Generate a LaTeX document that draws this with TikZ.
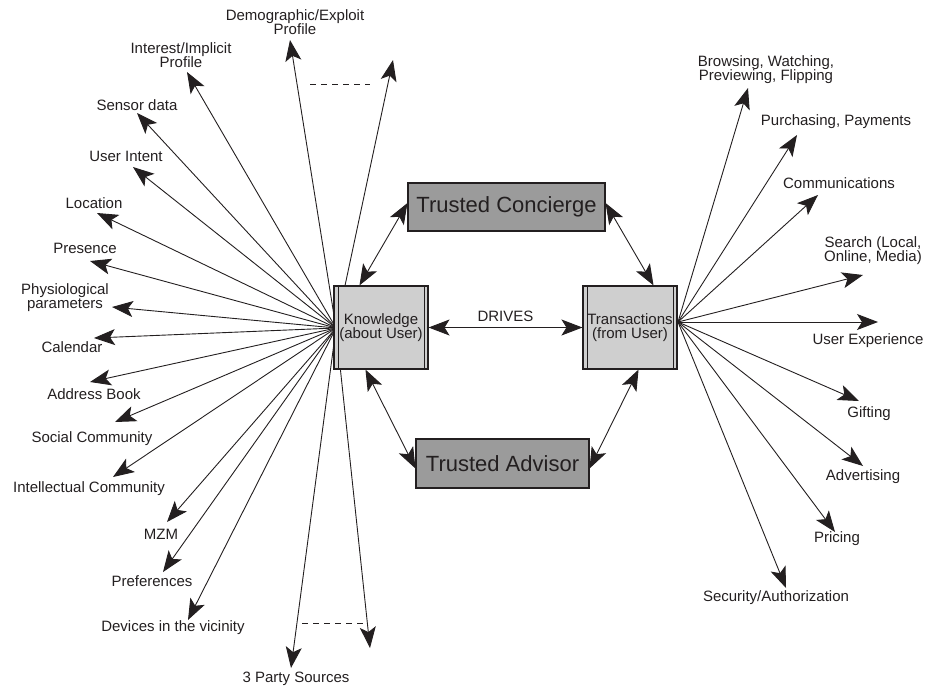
\documentclass[tikz,border=0pt]{standalone}
\usepackage{fontspec}
\setmainfont{Liberation Sans}
\usetikzlibrary{arrows.meta}
\definecolor{ink}{HTML}{231F20}
\definecolor{boxdark}{HTML}{9B9B9B}
\definecolor{boxlight}{HTML}{CFCFCF}
\begin{document}
\begin{tikzpicture}[x=1pt,y=-1pt,
  lbl/.style={font=\fontsize{15}{14}\selectfont, text=ink, inner sep=0pt, align=center},
  ray/.style={draw=ink, line width=0.9pt, -{Stealth[length=21pt,width=16pt,inset=5pt]}},
  dbl/.style={draw=ink, line width=0.9pt, {Stealth[length=21pt,width=16pt,inset=5pt]}-{Stealth[length=21pt,width=16pt,inset=5pt]}},
  gap/.style={draw=ink, line width=0.9pt, dash pattern=on 6pt off 5pt},
  proc/.style={draw=ink, line width=1.1pt, fill=boxlight, minimum width=94pt, minimum height=83pt, inner sep=0pt, align=center, font=\fontsize{15}{14}\selectfont, text=ink},
  trust/.style={draw=ink, line width=1.1pt, fill=boxdark, inner sep=0pt, font=\fontsize{22}{24}\selectfont, text=ink}
]
\useasboundingbox (0,0) rectangle (932,686);

% boxes positions (drawn later on top)
\path (381,327.5) coordinate (Kc) (630,327.5) coordinate (Tc);

% fan origins
\coordinate (L) at (336,328);
\coordinate (R) at (678,322);

% left labels
\node[lbl] (l1) at (295,22) {Demographic/Exploit\\Profile};
\node[lbl] (l2) at (181,55) {Interest/Implicit\\Profile};
\node[lbl] (l3) at (137,105) {Sensor data};
\node[lbl] (l4) at (126,156) {User Intent};
\node[lbl] (l5) at (94,203) {Location};
\node[lbl] (l6) at (85,248) {Presence};
\node[lbl] (l7) at (65,298) {Physiological\\parameters};
\node[lbl] (l8) at (72,347) {Calendar};
\node[lbl] (l9) at (94,394) {Address Book};
\node[lbl] (l10) at (92,439) {Social Community};
\node[lbl] (l11) at (89,489) {Intellectual Community};
\node[lbl] (l12) at (161,534) {MZM};
\node[lbl] (l13) at (152,581) {Preferences};
\node[lbl] (l14) at (173,628) {Devices in the vicinity};
\node[lbl] (l15) at (296,679) {3 Party Sources};

% left tips
\coordinate (t1) at (290,40);
\coordinate (t1b) at (393,60);
\coordinate (t2) at (187,72);
\coordinate (t3) at (137,113);
\coordinate (t4) at (133,167);
\coordinate (t5) at (97,213);
\coordinate (t6) at (90,261);
\coordinate (t7) at (112,307);
\coordinate (t8) at (94,338);
\coordinate (t9) at (90,382);
\coordinate (t10) at (115,422);
\coordinate (t11) at (113,477);
\coordinate (t12) at (167,522);
\coordinate (t13) at (163,572);
\coordinate (t14) at (188,620);
\coordinate (t15) at (291,668);
\coordinate (t15b) at (370,648);

\foreach \t in {t1,t1b,t2,t3,t4,t5,t6,t7,t8,t9,t10,t11,t12,t13,t14,t15,t15b}
  \draw[ray] (L) -- (\t);

% dashed gaps
\coordinate (g1a) at (310,84); \coordinate (g1b) at (370,84);
\coordinate (g2a) at (302,623); \coordinate (g2b) at (363,623);
\draw[gap] (g1a) -- (g1b);
\draw[gap] (g2a) -- (g2b);

% right labels
\node[lbl] (r1) at (766,70) {Browsing, Watching,\\Previewing, Flipping};
\node[lbl] (r2) at (836,122) {Purchasing, Payments};
\node[lbl] (r3) at (839,183) {Communications};
\node[lbl] (r4) at (873,251) {Search (Local,\\Online, Media)};
\node[lbl] (r5) at (868,341) {User Experience};
\node[lbl] (r6) at (869,414) {Gifting};
\node[lbl] (r7) at (863,477) {Advertising};
\node[lbl] (r8) at (837,539) {Pricing};
\node[lbl] (r9) at (776,598) {Security/Authorization};

% right tips
\coordinate (s1) at (748,88);
\coordinate (s2) at (797,135);
\coordinate (s3) at (818,195);
\coordinate (s4) at (863,275);
\coordinate (s5) at (878,322);
\coordinate (s6) at (859,401);
\coordinate (s7) at (863,466);
\coordinate (s8) at (835,532);
\coordinate (s9) at (786,588);

\foreach \s in {s1,s2,s3,s4,s5,s6,s7,s8,s9}
  \draw[ray] (R) -- (\s);

% central boxes
\node[proc] (K) at (Kc) {Knowledge\\(about User)};
\draw[ink, line width=0.9pt] ([xshift=4.5pt]K.north west) -- ([xshift=4.5pt]K.south west);
\draw[ink, line width=0.9pt] ([xshift=-4.5pt]K.north east) -- ([xshift=-4.5pt]K.south east);
\node[proc] (T) at (Tc) {Transactions\\(from User)};
\draw[ink, line width=0.9pt] ([xshift=4.5pt]T.north west) -- ([xshift=4.5pt]T.south west);
\draw[ink, line width=0.9pt] ([xshift=-4.5pt]T.north east) -- ([xshift=-4.5pt]T.south east);

\node[trust, minimum width=197pt, minimum height=48pt] (TC) at (506.5,207) {Trusted Concierge};
\node[trust, minimum width=173pt, minimum height=49pt] (TA) at (502.5,463.5) {Trusted Advisor};

% connections between central boxes
\draw[dbl] (K.east) -- node[lbl, above=5pt] (drv) {DRIVES} (T.west);
\draw[dbl] ([xshift=26pt]K.north west) -- ([yshift=4pt]TC.west);
\draw[dbl] ([yshift=4pt]TC.east) -- ([xshift=-24pt]T.north east);
\draw[dbl] ([xshift=32pt]K.south west) -- ([yshift=-5pt]TA.west);
\draw[dbl] ([yshift=-5pt]TA.east) -- ([xshift=-39pt]T.south east);
\end{tikzpicture}
\end{document}
